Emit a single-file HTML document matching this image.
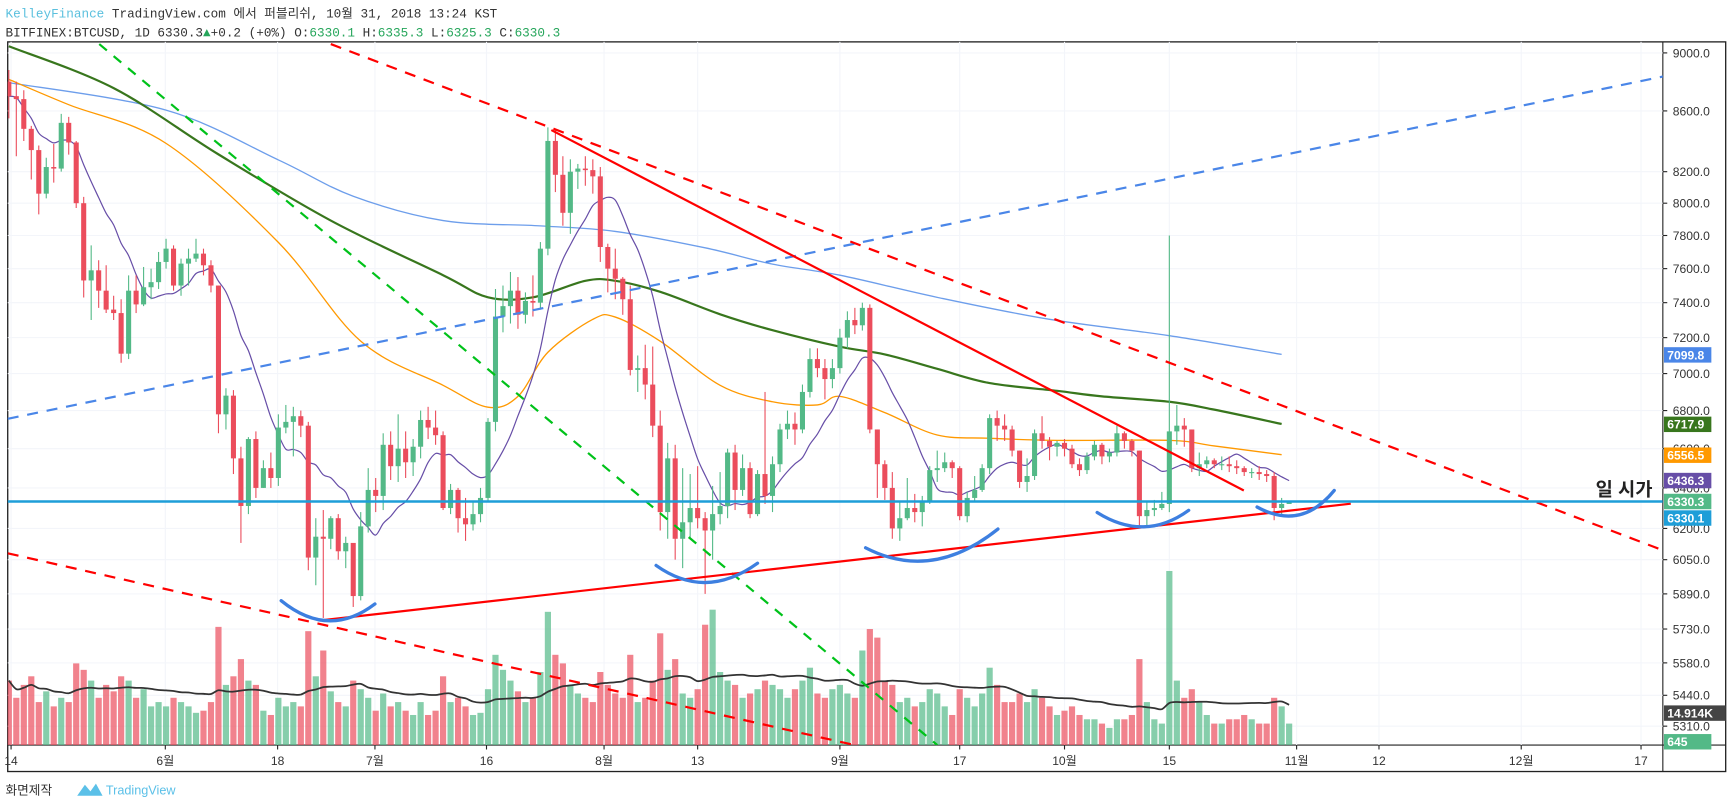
<!DOCTYPE html>
<html><head><meta charset="utf-8"><style>
html,body{margin:0;padding:0;background:#fff;overflow:hidden}
svg{display:block}
text{font-family:"Liberation Sans","Noto Sans CJK KR",sans-serif}
.mono{font-family:"Liberation Mono","Noto Sans CJK KR",monospace}
</style></head><body>
<svg id="chart" xmlns="http://www.w3.org/2000/svg" width="1729" height="809" viewBox="0 0 1568 734" preserveAspectRatio="none">
<text x="5" y="16" class="mono" font-size="11.5" fill="#333"><tspan fill="#5bc0de">KelleyFinance</tspan> TradingView.com 에서 퍼블리쉬, 10월 31, 2018 13:24 KST</text>
<text x="5" y="33" class="mono" font-size="11.5" fill="#333">BITFINEX:BTCUSD, 1D 6330.3<tspan fill="#26a65b">▲</tspan>+0.2 (+0%) O:<tspan fill="#26a65b">6330.1</tspan> H:<tspan fill="#26a65b">6335.3</tspan> L:<tspan fill="#26a65b">6325.3</tspan> C:<tspan fill="#26a65b">6330.3</tspan></text>
<rect x="7" y="38" width="1558" height="662" fill="none" stroke="#222" stroke-width="1.2"/>
<line x1="1508" y1="38" x2="1508" y2="700" stroke="#222" stroke-width="1"/>
<line x1="7" y1="676" x2="1565" y2="676" stroke="#222" stroke-width="1"/>
<defs><clipPath id="pane"><rect x="7" y="38" width="1501" height="638"/></clipPath></defs>
<g id="grid"></g>
<g id="vol" clip-path="url(#pane)"></g>
<g id="mas" clip-path="url(#pane)"></g>
<g id="candles" clip-path="url(#pane)"></g>
<g id="draw" clip-path="url(#pane)">
<line x1="90" y1="40" x2="850" y2="676" stroke="#00c21a" stroke-width="2" stroke-dasharray="9,8"/>
<line x1="7" y1="380" x2="1515" y2="68" stroke="#4a86e8" stroke-width="2" stroke-dasharray="10,8"/>
<line x1="300" y1="40" x2="1510" y2="500" stroke="#f00" stroke-width="2" stroke-dasharray="10,8"/>
<line x1="7" y1="502" x2="775" y2="676" stroke="#f00" stroke-width="2" stroke-dasharray="10,8"/>
<line x1="500" y1="118" x2="1128" y2="445" stroke="#f00" stroke-width="2"/>
<line x1="290" y1="563" x2="1225" y2="457" stroke="#f00" stroke-width="2"/>
<line x1="7" y1="455" x2="1508" y2="455" stroke="#1e9ed8" stroke-width="2.2"/>
<g fill="none" stroke="#3d7fe0" stroke-width="3" stroke-linecap="round">
<path d="M255,545 Q298,580 340,548"/>
<path d="M595,513 Q640,545 687,511"/>
<path d="M785,497 Q845,528 905,480"/>
<path d="M995,465 Q1038,492 1078,463"/>
<path d="M1140,460 Q1180,482 1210,445"/>
</g>
</g>
<text x="1447" y="450" font-size="17" font-weight="bold" fill="#222">일 시가</text>
<g id="axis"></g>
<text x="5" y="721" font-size="11.5" fill="#333">화면제작</text>
<path d="M70,722 L77,712 L82,718 L87,711 L93,722 Z" fill="#5bc0e8"/>
<text x="96" y="721" font-size="11.5" fill="#5bc0e8">TradingView</text>
</svg>
<script>
const closes=[8700,8680,8480,8340,8060,8230,8220,8520,8390,8000,7530,7590,7470,7360,7340,7110,7470,7390,7490,
7520,7640,7720,7500,7630,7660,7690,7620,7500,6780,6880,6550,6310,6650,6400,6500,6450,6710,6740,6770,6720,6060,6160,6150,6250,6090,6130,5880,6210,6390,
6360,6620,6510,6600,6530,6610,6750,6710,6670,6300,6390,6250,6220,6270,6350,6740,7320,7380,7470,7330,7410,7400,7720,8400,8180,7940,8200,8220,8210,8170,7730,
7600,7540,7420,7020,7030,6940,6720,6280,6550,6150,6230,6300,6250,6190,6270,6310,6580,6390,6500,6270,6470,6360,6520,6700,6730,6700,6900,7080,7030,6970,7030,
7200,7300,7270,7370,6700,6520,6400,6200,6250,6300,6280,6330,6490,6500,6530,6500,6260,6350,6390,6500,6760,6720,6700,6590,6430,6460,6680,6640,6610,6630,
6600,6520,6490,6560,6620,6560,6580,6680,6640,6590,6260,6290,6300,6320,6690,6720,6700,6500,6520,6540,6520,6520,6510,6500,6480,6480,6470,6460,6300,6320,6330];
const highs=[8880,8800,8740,8500,8370,8290,8380,8580,8560,8400,8040,7740,7650,7620,7440,7420,7560,7560,7610,
7600,7700,7780,7740,7660,7720,7780,7720,7650,7500,6920,6910,6610,6660,6690,6540,6580,6780,6830,6820,6800,6740,6250,6290,6260,6270,6160,6120,6280,6500,
6450,6680,6690,6780,6690,6650,6800,6820,6800,6690,6420,6400,6350,6330,6400,6760,7480,7500,7580,7550,7460,7560,7760,8490,8480,8300,8280,8250,8300,8280,8230,
7750,7720,7550,7500,7100,7160,7150,6800,6630,6620,6500,6470,6510,6280,6410,6480,6600,6620,6570,6530,6490,6900,6560,6730,6800,6790,6940,7140,7140,7080,7080,
7250,7350,7370,7400,7390,6700,6540,6480,6330,6450,6370,6360,6510,6590,6580,6540,6510,6380,6460,6520,6780,6800,6780,6720,6590,6550,6700,6770,6660,6640,
6650,6620,6550,6580,6640,6630,6600,6720,6690,6650,6590,6330,6340,6380,7800,6830,6760,6700,6580,6560,6550,6560,6560,6540,6510,6500,6510,6490,6480,6350,6335];
const lows=[8550,8300,8400,8150,7930,8030,8130,8200,8310,7970,7430,7300,7370,7340,7300,7060,7080,7340,7380,
7420,7480,7600,7470,7440,7500,7640,7560,7460,6680,6700,6470,6130,6270,6350,6400,6400,6410,6680,6560,6660,6000,5930,5780,6100,6050,6010,5830,5860,6180,
6280,6290,6440,6430,6450,6460,6550,6650,6620,6290,6270,6180,6140,6190,6230,6330,6690,7230,7280,7250,7280,7320,7360,7680,8070,7860,7810,8090,8110,8060,7640,
7460,7420,7330,6990,6900,6860,6660,6190,6150,6050,6010,6150,6200,5890,6050,6220,6250,6290,6360,6250,6260,6320,6280,6480,6650,6620,6680,6870,6980,6860,6920,
7000,7140,7220,7240,6680,6350,6340,6150,6140,6240,6230,6210,6320,6430,6480,6450,6240,6230,6330,6380,6470,6640,6640,6560,6400,6380,6440,6600,6540,6560,
6560,6500,6460,6470,6540,6520,6530,6560,6600,6560,6200,6210,6260,6290,6280,6620,6610,6480,6460,6500,6500,6490,6480,6470,6460,6450,6440,6430,6240,6260,6325];
const volumes=[30,22,28,32,20,25,18,22,20,38,35,30,22,28,25,32,30,22,26,
18,20,18,22,20,18,15,16,20,55,28,32,40,30,28,16,14,22,18,20,18,53,32,44,25,20,18,30,26,22,
16,24,18,20,16,14,20,14,16,32,20,22,18,14,15,26,42,35,30,25,20,22,34,62,42,38,28,24,22,20,34,
28,24,22,42,20,22,30,52,35,40,24,22,26,56,63,34,30,28,22,24,26,30,28,26,22,26,30,36,24,22,26,
28,24,22,44,54,50,30,28,20,22,18,20,26,24,18,14,26,22,18,24,36,28,20,20,24,20,26,22,18,14,
16,18,14,12,12,10,8,12,12,14,40,20,12,10,81,30,22,26,20,14,10,10,12,12,14,12,10,10,22,18,10];
const firstOpen=8800;
const ma200Days=[0,21,36,46,58,71,81,93,102,111,124,139,155,170];
const ma200Vals=[8793,8605,8276,8044,7892,7859,7825,7725,7627,7561,7431,7304,7211,7106];
const ma100Days=[0,14,28,43,58,64,70,77,81,87,95,102,111,117,124,131,140,146,155,161,170];
const ma100Vals=[9047,8755,8312,7892,7561,7431,7431,7528,7528,7463,7333,7242,7149,7106,7026,6948,6906,6876,6847,6805,6729];
const ma50Days=[0,8,21,36,47,58,64,68,72,78,81,87,95,102,108,111,117,124,131,140,155,161,170];
const ma50Vals=[8815,8642,8384,7758,7180,6936,6818,6876,7118,7304,7317,7180,6936,6847,6830,6876,6789,6671,6654,6643,6643,6614,6569];
const priceTicks=[9000,8600,8200,8000,7800,7600,7400,7200,7000,6800,6600,6400,6200,6050,5890,5730,5580,5440,5310];
const timeTickDays=[0.3,20.9,35.9,48.9,63.8,79.5,92,111,127,141,155,172,183,202,218];
const timeTickLabels=["14","6월","18","7월","16","8월","13","9월","17","10월","15","11월","12","12월","17"];
const badgeVals=["7099.8","6717.9","6556.5","6436.3","6330.3","6330.1","14.914K","645"];
const badgeYs=[322,385,413,436,455,470,647,673];
const badgeColors=["#4a86e8","#38761d","#ff9900","#674ea7","#53b987","#1e9ed8","#444","#53b987"];

const NS="http://www.w3.org/2000/svg";
const L9=Math.log(9000);
function yP(p){return 48+1157.7*(L9-Math.log(p));}
function xD(i){return 8+i*6.79;}
function yV(v){return 676-v*1.95;}
function mk(tag,attrs,parent){const e=document.createElementNS(NS,tag);for(const k in attrs)e.setAttribute(k,attrs[k]);parent.appendChild(e);return e;}
function smooth(pts){
 let d='M'+pts[0][0]+','+pts[0][1];
 for(let i=0;i<pts.length-1;i++){
  const p0=pts[i-1]||pts[i],p1=pts[i],p2=pts[i+1],p3=pts[i+2]||p2;
  d+=' C'+(p1[0]+(p2[0]-p0[0])/6)+','+(p1[1]+(p2[1]-p0[1])/6)+' '+(p2[0]-(p3[0]-p1[0])/6)+','+(p2[1]-(p3[1]-p1[1])/6)+' '+p2[0]+','+p2[1];
 }
 return d;
}
const G=document.getElementById('grid'),VG=document.getElementById('vol'),MG=document.getElementById('mas'),CG=document.getElementById('candles'),AX=document.getElementById('axis');

priceTicks.forEach(p=>{
 const y=yP(p);
 const gl=mk('line',{x1:7,x2:1508,y1:y,y2:y,stroke:'#f3f5fa','stroke-width':1},G);
 
 
 const t=mk('line',{x1:1508,x2:1512,y1:y,y2:y,stroke:'#222'},AX);
 
 
 const tx=mk('text',{x:1517,y:y+4,'font-size':11,fill:'#333'},AX);
 tx.textContent=p.toFixed(1);
 
 
});
timeTickDays.forEach((d,k)=>{
 const x=xD(d);
 const gl=mk('line',{x1:x,x2:x,y1:38,y2:676,stroke:'#f3f5fa','stroke-width':1},G);
 
 
 const t=mk('line',{x1:x,x2:x,y1:676,y2:680,stroke:'#222'},AX);
 
 
 const tx=mk('text',{x:x,y:694,'font-size':11,fill:'#333','text-anchor':'middle'},AX);
 tx.textContent=timeTickLabels[k];
 
 
});

volumes.forEach((v,i)=>{
 const o=i?closes[i-1]:firstOpen, up=closes[i]>=o;
 const r=mk('rect',{x:xD(i)-2.8,y:yV(v),width:5.6,height:676-yV(v),fill:up?'rgba(83,185,135,0.7)':'rgba(235,77,92,0.7)'},VG);
 
 
});
let vpts=[];
volumes.forEach((v,i)=>{const s=volumes.slice(Math.max(0,i-19),i+1);vpts.push([xD(i),yV(s.reduce((a,b)=>a+b,0)/s.length)]);});
const vma=mk('path',{d:smooth(vpts),fill:'none',stroke:'#333','stroke-width':1.6},VG);



function maLine(days,vals,color,w,name){
 const pl=mk('path',{d:smooth(days.map((d,k)=>[xD(d),yP(vals[k])])),fill:'none',stroke:color,'stroke-width':w},MG);
 
 
}
maLine(ma200Days,ma200Vals,'#6d9eeb',1.2,'ma200-line');
maLine(ma100Days,ma100Vals,'#38761d',2,'ma100-line');
maLine(ma50Days,ma50Vals,'#ff9900',1.2,'ma50-line');
let ppts=[];
closes.forEach((c,i)=>{const s=closes.slice(Math.max(0,i-9),i+1);ppts.push([xD(i),yP(s.reduce((a,b)=>a+b,0)/s.length)]);});
const pm=mk('path',{d:smooth(ppts),fill:'none',stroke:'#674ea7','stroke-width':1.1},MG);



closes.forEach((c,i)=>{
 const o=i?closes[i-1]:firstOpen, up=c>=o, col=up?'#53b987':'#eb4d5c', x=xD(i);
 const w=mk('line',{x1:x,x2:x,y1:yP(highs[i]),y2:yP(lows[i]),stroke:col,'stroke-width':1},CG);
 
 
 const yt=yP(Math.max(o,c)), yb=yP(Math.min(o,c));
 const b=mk('rect',{x:x-2.3,y:yt,width:4.6,height:Math.max(1,yb-yt),fill:col},CG);
 
 
});

badgeVals.forEach((v,k)=>{
 const wide=v.length>6;
 const r=mk('rect',{x:1509,y:badgeYs[k]-7,width:wide?56:43,height:14,fill:badgeColors[k]},AX);
 
 
 const t=mk('text',{x:1512,y:badgeYs[k]+4,'font-size':11,'font-weight':'bold',fill:'#fff'},AX);
 t.textContent=v;
 
 
});
</script>
</body></html>
